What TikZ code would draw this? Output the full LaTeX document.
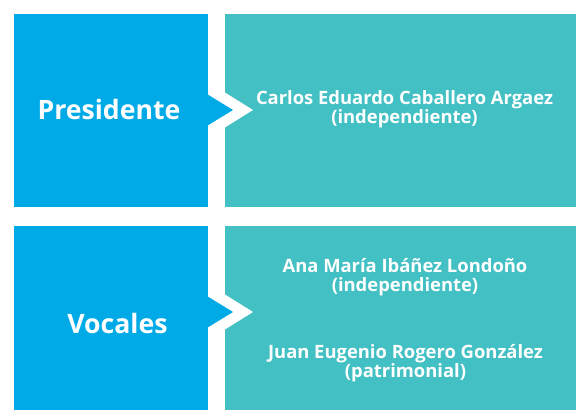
\documentclass[tikz,border=0pt]{standalone}
\usepackage{fontspec}
\setmainfont{Open Sans}
\usepackage{tikz}
\usetikzlibrary{positioning}

\definecolor{cargoblue}{RGB}{0,170,231}
\definecolor{nameteal}{RGB}{66,192,196}

\tikzset{
    cargo/.style={text=white,font=\bfseries\fontsize{20}{22}\selectfont,anchor=base},
    member/.style={text=white,font=\bfseries\fontsize{13.8}{14.3}\selectfont,align=center}
}

% blue box + teal box joined by a white chevron, tip at height #3
\newcommand{\drawRow}[3]{
    \fill[cargoblue] (14,#1) rectangle (208,#2);
    \fill[nameteal] (225,#1) rectangle (576,#2);
    \fill[white] (225,#3-17.5) -- (253,#3) -- (225,#3+17.5) -- cycle;
    \fill[cargoblue] (207.5,#3-15.6) -- (233,#3) -- (207.5,#3+15.6) -- cycle;
}

\begin{document}
\begin{tikzpicture}[x=0.75pt,y=-0.75pt]

        % --- Frame ---
        \useasboundingbox (0,0) rectangle (576,410);

        % --- Rows ---
        \drawRow{14}{207}{110}
        \drawRow{226}{410}{312}

        % left labels
        \node[cargo] (presidente) at (109,119.5) {Presidente};
        \node[cargo] (vocales) at (117.5,333.5) {Vocales};

        % names
        \node[member] (carlos) at (404.5,109) {Carlos Eduardo Caballero Argaez\\(independiente)};
        \node[member] (ana) at (405,277) {Ana María Ibáñez Londoño\\(independiente)};
        \node[member] (juan) at (405.5,363) {Juan Eugenio Rogero González\\(patrimonial)};

    \end{tikzpicture}
\end{document}
